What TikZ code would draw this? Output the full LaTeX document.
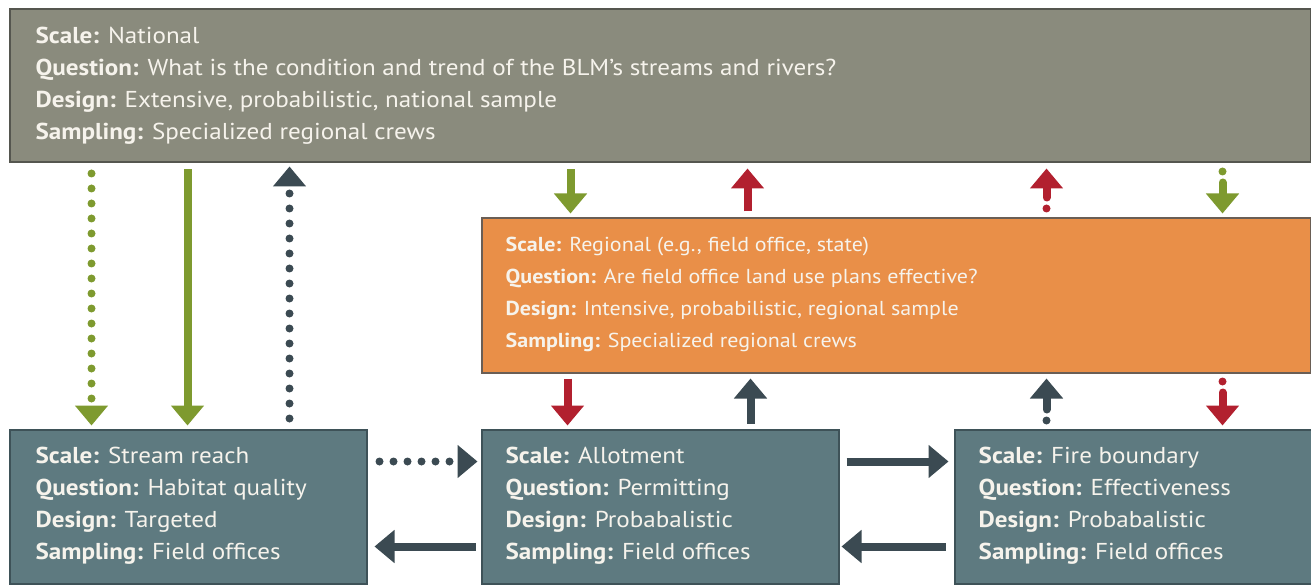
\documentclass[tikz,border=0pt]{standalone}
\usepackage{fontspec}
\setmainfont{PT Sans}
\newfontfamily\widesans[FakeStretch=1.09]{PT Sans}
\usetikzlibrary{arrows.meta}
\definecolor{topfill}{HTML}{8A8B7D}
\definecolor{topedge}{HTML}{55564F}
\definecolor{orfill}{HTML}{E98F48}
\definecolor{oredge}{HTML}{6A5E55}
\definecolor{blfill}{HTML}{5E7A80}
\definecolor{bledge}{HTML}{3E5258}
\definecolor{agreen}{HTML}{7E9A2F}
\definecolor{ared}{HTML}{B2202F}
\definecolor{adark}{HTML}{3B4A52}
\definecolor{txtc}{HTML}{F6F3EC}
\tikzset{
  box/.style={draw, line width=2pt, anchor=north west, inner sep=0pt},
  txt/.style={anchor=north west, inner sep=0pt, align=left, text=txtc,
    font=\widesans\fontsize{23}{32}\selectfont},
  txtsmall/.style={txt, font=\widesans\fontsize{20.2}{32}\selectfont},
  arr/.style={line width=8pt, -{Triangle[width=32pt,length=20pt]}},
  dotted arr/.style={arr, line cap=round, dash pattern=on 0pt off 15pt},
  dotlead/.style={arr, line cap=round, dash pattern=on 0pt off 11pt on 40pt},
}
\begin{document}
\begin{tikzpicture}[x=1pt,y=-1pt]
\useasboundingbox[fill=white] (0,0) rectangle (1311,585);
% boxes
\node[box, fill=topfill, draw=topedge, minimum width=1301pt, minimum height=153pt] (top) at (8.5,8.5) {};
\node[box, fill=orfill, draw=oredge, minimum width=829pt, minimum height=154pt] (reg) at (480.5,217.5) {};
\node[box, fill=blfill, draw=bledge, minimum width=357pt, minimum height=154pt] (left) at (8.5,428.5) {};
\node[box, fill=blfill, draw=bledge, minimum width=357pt, minimum height=154pt] (mid) at (480.5,428.5) {};
\node[box, fill=blfill, draw=bledge, minimum width=357pt, minimum height=154pt] (right) at (953.5,428.5) {};
% texts
\node[txt] (toptx) at ([xshift=27pt,yshift=-18pt]top.north west)
 {\textbf{Scale:} National\\
  \textbf{Question:} What is the condition and trend of the BLM’s streams and rivers?\\
  \textbf{Design:} Extensive, probabilistic, national sample\\
  \textbf{Sampling:} Specialized regional crews};
\node[txtsmall] (regtx) at ([xshift=25pt,yshift=-19pt]reg.north west)
 {\textbf{Scale:} Regional (e.g., field office, state)\\
  \textbf{Question:} Are field office land use plans effective?\\
  \textbf{Design:} Intensive, probabilistic, regional sample\\
  \textbf{Sampling:} Specialized regional crews};
\node[txt] (lefttx) at ([xshift=27pt,yshift=-18pt]left.north west)
 {\textbf{Scale:} Stream reach\\
  \textbf{Question:} Habitat quality\\
  \textbf{Design:} Targeted\\
  \textbf{Sampling:} Field offices};
\node[txt] (midtx) at ([xshift=25pt,yshift=-18pt]mid.north west)
 {\textbf{Scale:} Allotment\\
  \textbf{Question:} Permitting\\
  \textbf{Design:} Probabalistic\\
  \textbf{Sampling:} Field offices};
\node[txt] (righttx) at ([xshift=25pt,yshift=-18pt]right.north west)
 {\textbf{Scale:} Fire boundary\\
  \textbf{Question:} Effectiveness\\
  \textbf{Design:} Probabalistic\\
  \textbf{Sampling:} Field offices};
% national <-> stream reach
\draw[dotted arr, agreen, shorten <=10pt, shorten >=3pt] ([xshift=83pt]top.south west) -- ([xshift=83pt]left.north west);
\draw[arr, agreen, shorten <=6pt, shorten >=3pt] ([xshift=179pt]top.south west) -- ([xshift=179pt]left.north west);
\draw[dotted arr, adark, shorten <=10pt, shorten >=3pt] ([xshift=281pt]left.north west) -- ([xshift=281pt]top.south west);
% national <-> regional
\draw[arr, agreen, shorten <=6pt, shorten >=4pt] ([xshift=562pt]top.south west) -- ([xshift=90pt]reg.north west);
\draw[arr, ared, shorten <=6pt, shorten >=5pt] ([xshift=267pt]reg.north west) -- ([xshift=739pt]top.south west);
\draw[dotlead, ared, shorten <=9pt, shorten >=5pt] ([xshift=566pt]reg.north west) -- ([xshift=1038pt]top.south west);
\draw[dotlead, agreen, shorten <=8pt, shorten >=4pt] ([xshift=1214pt]top.south west) -- ([xshift=742pt]reg.north west);
% regional <-> bottom
\draw[arr, ared, shorten <=5pt, shorten >=3pt] ([xshift=87pt]reg.south west) -- ([xshift=87pt]mid.north west);
\draw[arr, adark, shorten <=5pt, shorten >=5pt] ([xshift=270pt]mid.north west) -- ([xshift=270pt]reg.south west);
\draw[dotlead, adark, shorten <=8pt, shorten >=5pt] ([xshift=93pt]right.north west) -- ([xshift=566pt]reg.south west);
\draw[dotlead, ared, shorten <=8pt, shorten >=3pt] ([xshift=742pt]reg.south west) -- ([xshift=269pt]right.north west);
% horizontal
\draw[dotted arr, adark, dash pattern=on 0pt off 14pt, shorten <=12pt, shorten >=3pt] ([yshift=-33pt]left.north east) -- ([yshift=-33pt]mid.north west);
\draw[arr, adark, shorten <=5pt, shorten >=7pt] ([yshift=38pt]mid.south west) -- ([yshift=38pt]left.south east);
\draw[arr, adark, shorten <=7pt, shorten >=5pt] ([yshift=-33pt]mid.north east) -- ([yshift=-33pt]right.north west);
\draw[arr, adark, shorten <=8pt, shorten >=2pt] ([yshift=38pt]right.south west) -- ([yshift=38pt]mid.south east);
\end{tikzpicture}
\end{document}
